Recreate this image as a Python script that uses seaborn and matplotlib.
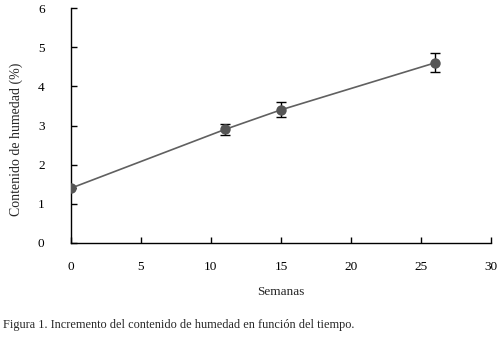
import matplotlib
matplotlib.use('Agg')
import matplotlib.pyplot as plt
import seaborn as sns
import pandas as pd

semanas = [0, 11, 15, 26]
humedad = [1.4, 2.9, 3.4, 4.6]
error = [0.0, 0.15, 0.19, 0.24]

df = pd.DataFrame({'Semanas': semanas, 'Humedad': humedad, 'Error': error})

sns.set_style('ticks')
plt.rcParams['font.family'] = ['Liberation Serif', 'DejaVu Serif']

fig = plt.figure(figsize=(5.01, 3.37), dpi=100)
ax = fig.add_axes([0.1417, 0.279, 0.838, 0.697])

ax.errorbar(df['Semanas'], df['Humedad'], yerr=df['Error'], fmt='none',
            ecolor='black', elinewidth=1, capsize=3.5, capthick=1, zorder=2)
sns.lineplot(data=df, x='Semanas', y='Humedad', ax=ax, color='#606060',
             linewidth=1.2, marker='o', markersize=7.5, markeredgewidth=0,
             markerfacecolor='#555555', zorder=3)

ax.set_xlim(0, 30)
ax.set_ylim(0, 6)
ax.set_xticks(range(0, 31, 5))
ax.set_yticks(range(0, 7))
ax.tick_params(axis='both', direction='in', length=4, width=1, colors='black',
               labelsize=9.5)
ax.tick_params(axis='x', pad=13)
ax.tick_params(axis='y', pad=19)
for s in ['top', 'right']:
    ax.spines[s].set_visible(False)
for s in ['left', 'bottom']:
    ax.spines[s].set_linewidth(1)
    ax.spines[s].set_color('black')

ax.set_xlabel('Semanas', fontsize=9.5, labelpad=9)
ax.set_ylabel('Contenido de humedad (%)', fontsize=10)
ax.yaxis.set_label_coords(-0.115, 0.443)

fig.text(0.006, 0.035, 'Figura 1. Incremento del contenido de humedad en función del tiempo.',
         fontsize=8.8, ha='left', va='center')

fig.savefig('out.png', dpi=100)
